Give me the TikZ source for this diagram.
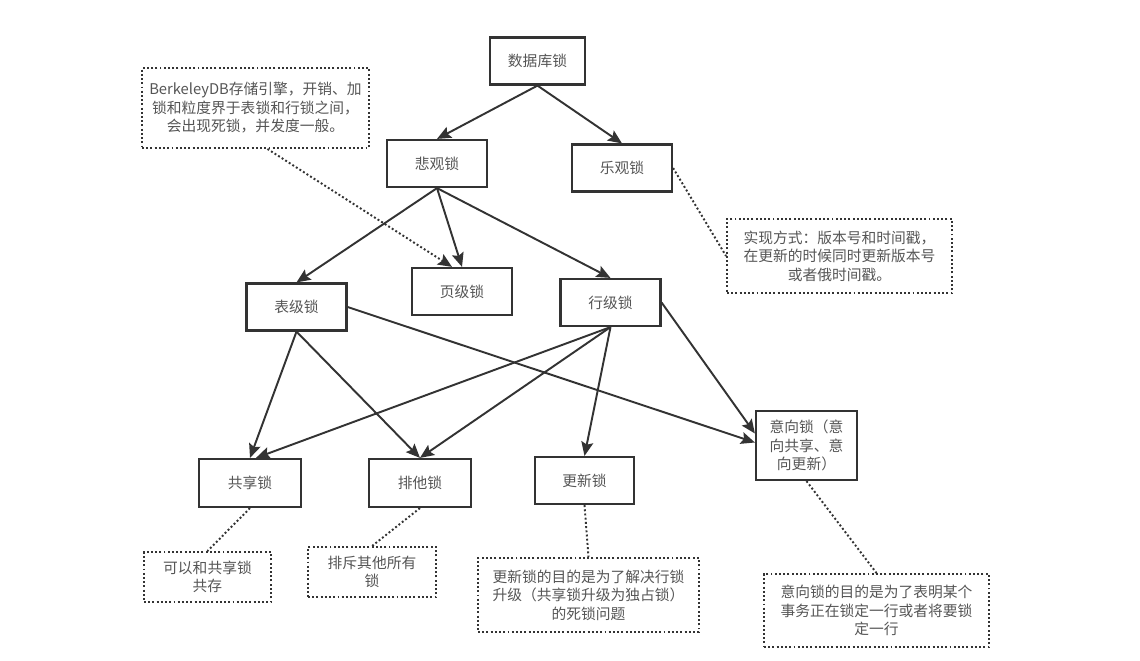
\documentclass[tikz,border=0pt]{standalone}
\usepackage{fontspec}
\setmainfont{Noto Sans CJK SC}
\usetikzlibrary{arrows.meta}
\usetikzlibrary{positioning}
\definecolor{edgegray}{HTML}{333333}
\definecolor{textgray}{HTML}{555555}

\begin{document}
\begin{tikzpicture}[x=0.02cm,y=-0.02cm,node distance=3.4cm,
  every node/.style={text=textgray,font=\fontsize{8.4pt}{10.5pt}\selectfont,align=center,inner sep=2pt},
  box/.style={draw=edgegray,line width=1.25pt,minimum width=2cm,minimum height=0.94cm},
  note/.style={draw=edgegray,line width=1.1pt,dash pattern=on 1.1pt off 1.3pt},
  arr/.style={draw=edgegray,line width=1.1pt,-{Stealth[length=0.28cm,width=0.24cm,inset=0.05cm]}},
  dotline/.style={draw=edgegray,line width=1.1pt,dash pattern=on 1.1pt off 1.3pt}]
  \useasboundingbox (0,0) rectangle (1140,660);

  \node (1) at (537.5,61)[box,minimum width=1.9cm]{数据库锁};
  \node (2) at (437,163.5)[box]{悲观锁};
  \node (3) at (622,168)[box]{乐观锁};
  \node (4) at (296.5,307)[box]{表级锁};
  \node (5) at (462,291.5)[box]{页级锁};
  \node (6) at (610.5,302.5)[box]{行级锁};
  \node (7) at (250,483)[box,minimum width=2.04cm,minimum height=0.96cm]{共享锁};
  \node[right of =7](8)[box,minimum width=2.04cm,minimum height=0.96cm]{排他锁};
  \node (9) at (584.5,480.5)[box,minimum width=1.98cm]{更新锁};
  \node (10) at (806.5,445.5)[box,minimum width=2.02cm,minimum height=1.38cm]{意向锁（意\\向共享、意\\向更新）};

  \node (11) at (255.5,108)[note,minimum width=4.54cm,minimum height=1.6cm]{BerkeleyDB存储引擎，开销、加\\锁和粒度界于表锁和行锁之间，\\会出现死锁，并发度一般。};
  \node (12) at (839.5,256)[note,minimum width=4.5cm,minimum height=1.48cm]{实现方式：版本号和时间戳，\\在更新的时候同时更新版本号\\或者俄时间戳。};
  \node (13) at (207.5,577)[note,minimum width=2.54cm,minimum height=1cm]{可以和共享锁\\共存};
  \node (14) at (372,572)[note,minimum width=2.56cm,minimum height=1cm]{排斥其他所有\\锁};
  \node (15) at (588.5,595)[note,minimum width=4.42cm,minimum height=1.48cm]{更新锁的目的是为了解决行锁\\升级（共享锁升级为独占锁）\\的死锁问题};
  \node (16) at (876.5,610.5)[note,minimum width=4.5cm,minimum height=1.46cm]{意向锁的目的是为了表明某个\\事务正在锁定一行或者将要锁\\定一行};

  \draw[arr](1.south)--(2.north);
  \draw[arr](1.south)--(3.north);
  \draw[arr](2.south)--(4.north);
  \draw[arr](2.south)--(5.north);
  \draw[arr](2.south)--(6.north);
  \draw[arr](4.south)--(7.north);
  \draw[arr](4.south)--(8.north);
  \draw[arr](4.east)--([yshift=0.06cm]10.west);
  \draw[arr](6.south)--([xshift=0.12cm]7.north);
  \draw[arr](6.south)--(8.north);
  \draw[arr](6.south)--(9.north);
  \draw[arr](6.east)--([yshift=0.24cm]10.west);

  \draw[dotline,-{Stealth[length=0.28cm,width=0.24cm,inset=0.05cm]}]([xshift=0.24cm]11.south)--([xshift=-0.2cm]5.north);
  \draw[dotline](3.east)--(12.west);
  \draw[dotline](7.south)--(13.north);
  \draw[dotline](8.south)--(14.north);
  \draw[dotline](9.south)--(15.north);
  \draw[dotline](10.south)--(16.north);
\end{tikzpicture}
\end{document}
